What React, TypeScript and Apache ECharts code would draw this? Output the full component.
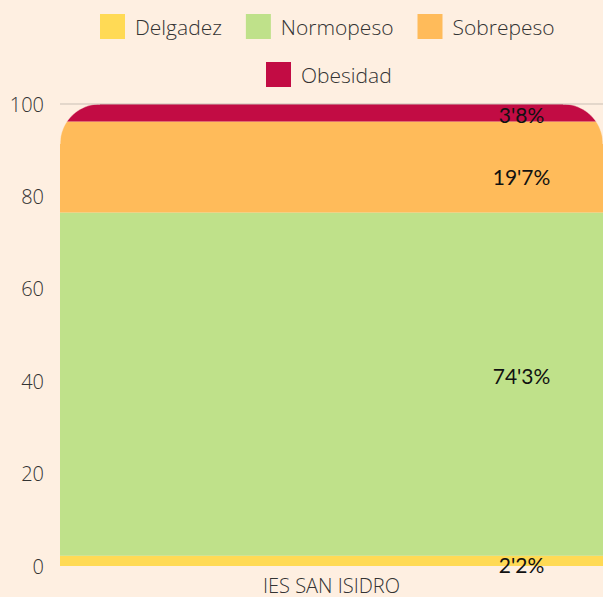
import React, { useEffect, useRef } from "react";
import * as echarts from "echarts";

const categories = ["IES SAN ISIDRO"];
const seriesNames = ["Delgadez", "Normopeso", "Sobrepeso", "Obesidad"];
const legendRow1 = ["Delgadez", "Normopeso", "Sobrepeso"];
const legendRow2 = ["Obesidad"];
const delgadez = [2.2];
const normopeso = [74.3];
const sobrepeso = [19.7];
const obesidad = [3.8];
const yMin = 0;
const yMax = 100;
const yInterval = 20;

const BG = "#FEEFE1";
const COLORS = ["#FFDA55", "#BFE18A", "#FFBB5A", "#C20C44"];
const LABEL_OFFSETS = [[0, 4], [0, -9], [0, 9], [0, 2]];
const CORNER_R = 40;

const fmt = (v: number) => String(v).replace(".", "'") + "%";

export default function App() {
  const ref = useRef<HTMLDivElement>(null);
  useEffect(() => {
    document.body.style.margin = "0";
    document.body.style.background = BG;
    if (!ref.current) return;
    const chart = echarts.init(ref.current, undefined, { renderer: "svg" });
    const values = [delgadez, normopeso, sobrepeso, obesidad];
    const totals = categories.map((_, i) =>
      values.reduce((s, arr) => s + arr[i], 0)
    );
    const barSeries = seriesNames.map((name, k) => ({
      name,
      type: "bar",
      stack: "total",
      barWidth: "100%",
      data: values[k],
      itemStyle: { color: COLORS[k] },
      label: {
        show: true,
        position: ["85%", "50%"],
        align: "center",
        verticalAlign: "middle",
        offset: LABEL_OFFSETS[k],
        formatter: (p: any) => fmt(p.value),
        color: "#111",
        fontSize: 21,
        fontFamily: "Lato",
      },
      z: 2,
    }));
    const maskSeries = {
      name: "mask",
      type: "custom",
      z: 5,
      silent: true,
      data: categories.map((c, i) => [i, totals[i]]),
      encode: { x: 0, y: 1 },
      renderItem: (params: any, api: any) => {
        const top = api.coord([api.value(0), api.value(1)]);
        const bw = api.size([1, 0])[0];
        const left = top[0] - bw / 2;
        const right = top[0] + bw / 2;
        const yTop = top[1];
        const R = CORNER_R;
        const n = 24;
        const lp: number[][] = [[left, yTop]];
        for (let i = 0; i <= n; i++) {
          const t = -Math.PI + (Math.PI / 2) * (i / n);
          lp.push([left + R + R * Math.cos(t), yTop + R + R * Math.sin(t)]);
        }
        const rp: number[][] = [[right, yTop]];
        for (let i = 0; i <= n; i++) {
          const t = -Math.PI / 2 + (Math.PI / 2) * (i / n);
          rp.push([right - R + R * Math.cos(t), yTop + R + R * Math.sin(t)]);
        }
        const gridTop = api.coord([0, yMax])[1];
        return {
          type: "group",
          children: [
            { type: "polygon", shape: { points: lp }, style: { fill: BG, stroke: BG, lineWidth: 0.5 } },
            { type: "polygon", shape: { points: rp }, style: { fill: BG, stroke: BG, lineWidth: 0.5 } },
            {
              type: "line",
              shape: { x1: left, y1: gridTop, x2: right, y2: gridTop },
              style: { stroke: "#C9BFB5", lineWidth: 1 },
            },
          ],
        };
      },
    };
    const legendBase = {
      itemWidth: 25,
      itemHeight: 25,
      itemGap: 24,
      icon: "rect",
      padding: 0,
      textStyle: {
        fontFamily: "Open Sans",
        fontWeight: 300,
        fontSize: 21,
        color: "#333",
        padding: [0, 0, 0, 5],
      },
    };
    chart.setOption({
      animation: false,
      backgroundColor: BG,
      legend: [
        { ...legendBase, data: legendRow1, top: 14, left: 100 },
        { ...legendBase, data: legendRow2, top: 62, left: 266 },
      ],
      grid: { left: 60, right: 0, top: 104, bottom: 31, containLabel: false },
      xAxis: {
        type: "category",
        data: categories,
        axisLine: { show: false },
        axisTick: { show: false },
        axisLabel: {
          margin: 9,
          fontFamily: "Open Sans",
          fontWeight: 300,
          fontSize: 20,
          color: "#333",
        },
      },
      yAxis: {
        type: "value",
        min: yMin,
        max: yMax,
        interval: yInterval,
        axisLine: { show: false },
        axisTick: { show: false },
        splitLine: { show: false },
        axisLabel: {
          margin: 16,
          fontFamily: "Open Sans",
          fontWeight: 300,
          fontSize: 20,
          color: "#333",
        },
      },
      series: [...barSeries, maskSeries],
    });
    return () => chart.dispose();
  }, []);
  return <div ref={ref} style={{ width: 603, height: 597 }} />;
}
